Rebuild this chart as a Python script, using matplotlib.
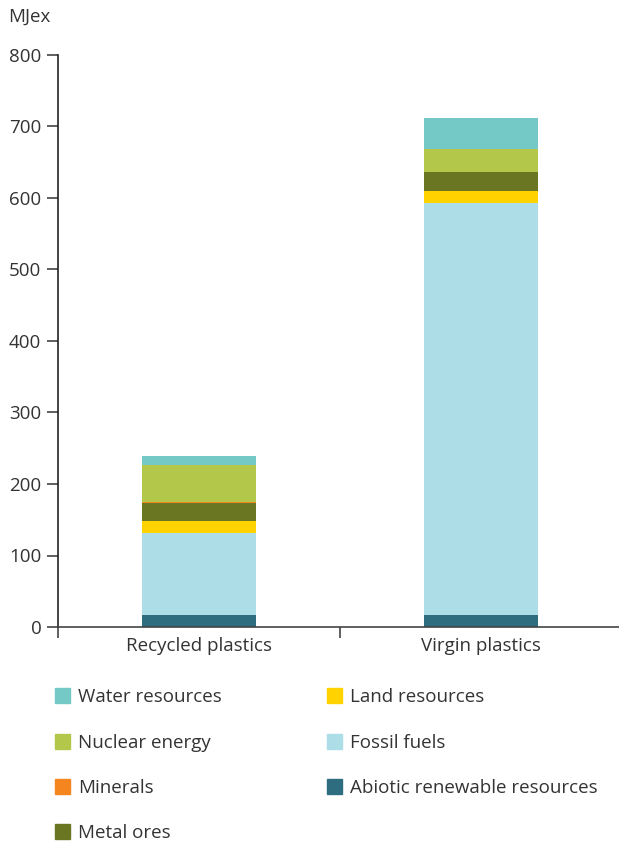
import matplotlib
matplotlib.use("Agg")
import matplotlib.pyplot as plt
from matplotlib.patches import Rectangle
import numpy as np

plt.rcParams['font.family'] = ['Open Sans', 'DejaVu Sans']

categories = ["Recycled plastics", "Virgin plastics"]
series_names = ["Abiotic renewable resources", "Fossil fuels", "Land resources",
                "Metal ores", "Minerals", "Nuclear energy", "Water resources"]
abiotic = [17, 17]
fossil = [114.5, 576.5]
land = [16.5, 16.5]
metal_ores = [26, 26]
minerals = [0.5, 0.5]
nuclear = [52, 32]
water = [13, 44]
series_values = [abiotic, fossil, land, metal_ores, minerals, nuclear, water]
colors = ["#2E6D80", "#ADDEE8", "#FFD200", "#6B7622", "#F5851F", "#B3C84A", "#74C9C7"]
yticks = [0, 100, 200, 300, 400, 500, 600, 700, 800]

TXT = "#333333"
AX = "#444444"
FS = 13.5

fig = plt.figure(figsize=(6.19, 8.41), dpi=100)
ax = fig.add_axes([58/619, 1-627/841, 1-58/619, (627-55)/841])

x = np.arange(len(categories))
bottom = np.zeros(len(categories))
for vals, col in zip(series_values, colors):
    ax.bar(x, vals, bottom=bottom, width=0.405, color=col, edgecolor='none')
    bottom += np.array(vals)

ax.set_xlim(-0.5, 1.49)
ax.set_ylim(0, 800)
ax.set_yticks(yticks)
ax.set_yticklabels([str(t) for t in yticks], fontsize=FS, color=TXT)
ax.set_xticks([-0.5, 0.5])
ax.set_xticklabels([])
ax.set_xticks(x, minor=True)
ax.set_xticklabels(categories, minor=True, fontsize=FS, color=TXT)
ax.tick_params(axis='x', which='minor', length=0, pad=7)
ax.tick_params(axis='x', which='major', length=8, width=1.2, color=AX)
ax.tick_params(axis='y', length=8, width=1.2, color=AX, pad=4)
for s in ['top', 'right']:
    ax.spines[s].set_visible(False)
for s in ['left', 'bottom']:
    ax.spines[s].set_color(AX)
    ax.spines[s].set_linewidth(1.2)
ax.spines['left'].set_color("#222222")

fig.text(8/619, 1-17/841, "MJex", fontsize=FS, color=TXT, va='center', ha='left')

# legend (manual layout)
legend_order = [6, 5, 4, 3, 2, 1, 0]  # Water, Nuclear, Minerals, Metal ores, Land, Fossil, Abiotic
col_x = [55, 327]
row_y = [695, 741, 786, 831]
sq = 15
W, H = 619, 841
for i, idx in enumerate(legend_order):
    c = 0 if i < 4 else 1
    r = i if i < 4 else i - 4
    x0 = col_x[c]
    yc = row_y[r]
    fig.patches.append(Rectangle((x0/W, 1-(yc+sq/2)/H), sq/W, sq/H,
                                 transform=fig.transFigure, color=colors[idx]))
    fig.text((x0+sq+8)/W, 1-(yc+2)/H, series_names[idx], fontsize=FS,
             color=TXT, va='center', ha='left')

fig.savefig("out.png", dpi=100)
